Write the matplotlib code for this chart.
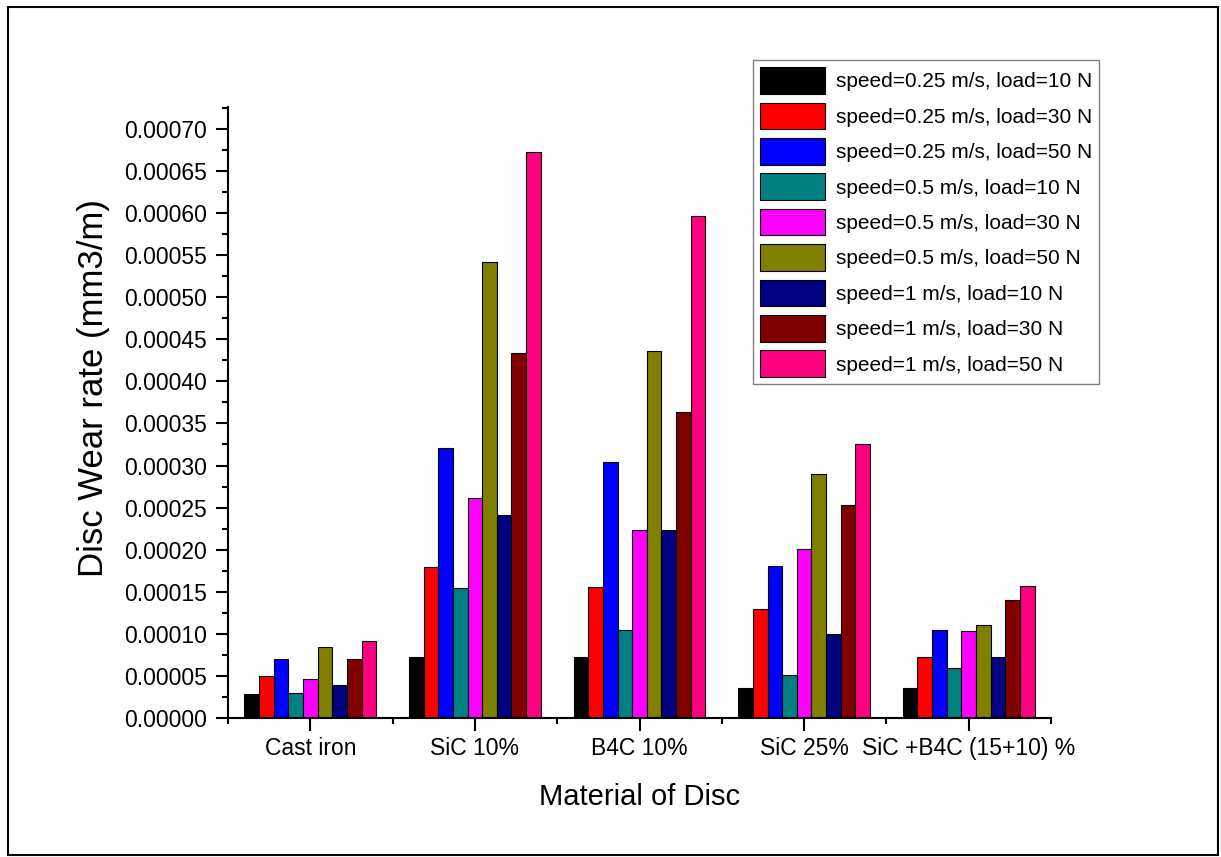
"""
grouped bar chart of the disc wear rate for every material,
one bar for every speed / load combination
"""
import matplotlib
matplotlib.use('Agg')
import matplotlib.pyplot as plt
import matplotlib.patches as patches
from matplotlib.ticker import MultipleLocator, FixedLocator, FormatStrFormatter
import numpy as np

plt.rcParams['font.family'] = ['Liberation Sans', 'DejaVu Sans']

materials = ['Cast iron', 'SiC 10%', 'B4C 10%', 'SiC 25%', 'SiC +B4C (15+10) %']

series_labels = [
    'speed=0.25 m/s, load=10 N',
    'speed=0.25 m/s, load=30 N',
    'speed=0.25 m/s, load=50 N',
    'speed=0.5 m/s, load=10 N',
    'speed=0.5 m/s, load=30 N',
    'speed=0.5 m/s, load=50 N',
    'speed=1 m/s, load=10 N',
    'speed=1 m/s, load=30 N',
    'speed=1 m/s, load=50 N',
]

# wear rate (mm3/m), one list per series, one value per material
v025_10 = [0.0000285, 0.0000720, 0.0000725, 0.0000360, 0.0000360]
v025_30 = [0.0000500, 0.0001800, 0.0001557, 0.0001300, 0.0000720]
v025_50 = [0.0000705, 0.0003210, 0.0003040, 0.0001810, 0.0001040]
v05_10 = [0.0000297, 0.0001545, 0.0001040, 0.0000505, 0.0000600]
v05_30 = [0.0000460, 0.0002610, 0.0002230, 0.0002010, 0.0001035]
v05_50 = [0.0000847, 0.0005420, 0.0004360, 0.0002900, 0.0001100]
v1_10 = [0.0000390, 0.0002410, 0.0002230, 0.0001000, 0.0000720]
v1_30 = [0.0000705, 0.0004340, 0.0003640, 0.0002530, 0.0001400]
v1_50 = [0.0000915, 0.0006720, 0.0005970, 0.0003260, 0.0001570]

all_series = [v025_10, v025_30, v025_50, v05_10, v05_30,
              v05_50, v1_10, v1_30, v1_50]

colors = ['#000000', '#FF0000', '#0000FF', '#008080', '#FF00FF',
          '#808000', '#000080', '#800000', '#FF0080']


def plot_maker():
    fig = plt.figure(figsize=(12.21, 8.57), dpi=100)
    ax = fig.add_axes([228 / 1221, 1 - 718 / 857, (1051 - 228) / 1221, (718 - 107) / 857])

    x = np.arange(1, len(materials) + 1)
    width = 0.8 / len(all_series)
    for i, values in enumerate(all_series):
        offset = (i - (len(all_series) - 1) / 2) * width
        ax.bar(x + offset, values, width, color=colors[i], edgecolor='black',
               linewidth=0.8, label=series_labels[i])

    ax.set_xlim(0.5, 5.5)
    ax.set_ylim(0, 0.000726)

    ax.set_xticks(x)
    ax.set_xticklabels(materials)
    ax.xaxis.set_minor_locator(FixedLocator(np.arange(0.5, 5.6, 1.0)))
    ax.yaxis.set_major_locator(MultipleLocator(0.00005))
    ax.yaxis.set_minor_locator(MultipleLocator(0.000025))
    ax.yaxis.set_major_formatter(FormatStrFormatter('%.5f'))

    ax.tick_params(which='major', length=9, width=1.5, labelsize=16.5, direction='out')
    ax.tick_params(which='minor', length=4.5, width=1.5, direction='out')
    ax.tick_params(axis='y', which='major', pad=6)
    ax.tick_params(axis='x', which='major', pad=5)

    for side in ['top', 'right']:
        ax.spines[side].set_visible(False)
    for side in ['left', 'bottom']:
        ax.spines[side].set_linewidth(1.5)

    ax.set_xlabel('Material of Disc', fontsize=21, labelpad=16)
    ax.set_ylabel('Disc Wear rate (mm3/m)', fontsize=25)
    ax.yaxis.set_label_coords(-0.1434, 0.54)

    leg = ax.legend(loc='upper left', bbox_to_anchor=(753 / 1221, 1 - 60 / 857),
                    bbox_transform=fig.transFigure, borderaxespad=0, fontsize=15,
                    fancybox=False, framealpha=1, edgecolor='#808080',
                    handlelength=3.1, handleheight=1.59, handletextpad=0.53,
                    labelspacing=0.42, borderpad=0.35)
    leg.get_frame().set_linewidth(1.0)

    # border round the whole picture
    fig.patches.append(patches.Rectangle((8 / 1221, 2 / 857), 1210 / 1221, 848 / 857,
                                         transform=fig.transFigure, fill=False,
                                         edgecolor='black', linewidth=1.5))

    fig.savefig('out.png', dpi=100)


if __name__ == '__main__':
    plot_maker()
